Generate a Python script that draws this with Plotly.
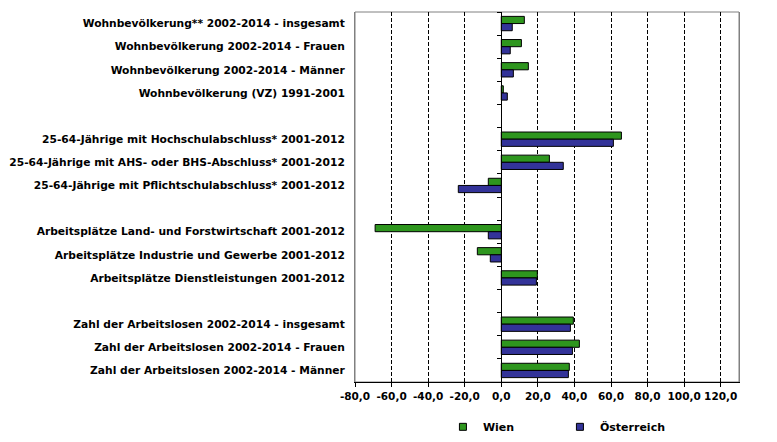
import plotly.graph_objects as go

categories = [
    "Wohnbevölkerung** 2002-2014 - insgesamt",
    "Wohnbevölkerung 2002-2014 - Frauen",
    "Wohnbevölkerung 2002-2014 - Männer",
    "Wohnbevölkerung (VZ) 1991-2001",
    " ",
    "25-64-Jährige mit Hochschulabschluss* 2001-2012",
    "25-64-Jährige mit AHS- oder BHS-Abschluss* 2001-2012",
    "25-64-Jährige mit Pflichtschulabschluss* 2001-2012",
    "  ",
    "Arbeitsplätze Land- und Forstwirtschaft 2001-2012",
    "Arbeitsplätze Industrie und Gewerbe 2001-2012",
    "Arbeitsplätze Dienstleistungen 2001-2012",
    "   ",
    "Zahl der Arbeitslosen 2002-2014 - insgesamt",
    "Zahl der Arbeitslosen 2002-2014 - Frauen",
    "Zahl der Arbeitslosen 2002-2014 - Männer",
]
wien = [12.6, 11.0, 14.8, 1.1, None, 65.7, 26.3, -7.1, None, -69.0, -13.1, 19.7, None, 39.4, 42.7, 37.2]
oesterreich = [6.0, 4.9, 6.6, 3.3, None, 61.3, 33.9, -23.5, None, -7.1, -6.0, 19.2, None, 37.8, 38.9, 36.7]
series_names = ["Wien", "Österreich"]
series_colors = ["#2E961E", "#333399"]
x_ticks = [-80, -60, -40, -20, 0, 20, 40, 60, 80, 100, 120]
x_tick_text = [f"{v:.1f}".replace(".", ",") for v in x_ticks]
x_range = [-80, 130]

FONT = "Verdana, DejaVu Sans, sans-serif"

fig = go.Figure()
for name, vals, col in zip(series_names, [wien, oesterreich], series_colors):
    fig.add_trace(go.Bar(
        y=categories, x=vals, name=name, orientation="h", showlegend=False,
        marker=dict(color=col, line=dict(color="black", width=1)),
    ))
# legend-only entries with small square swatches
for name, col in zip(series_names, series_colors):
    fig.add_trace(go.Scatter(
        x=[None], y=[None], name=name, mode="markers",
        marker=dict(symbol="square", size=7, color=col, line=dict(color="black", width=1)),
    ))
# invisible helper so the category axis line with ticks can sit at x = 0
fig.add_trace(go.Scatter(
    y=categories, x=[0] * len(categories), yaxis="y2", mode="none",
    showlegend=False, hoverinfo="skip",
))

zero_pos = (0 - x_range[0]) / (x_range[1] - x_range[0])
y_range = [len(categories) - 0.5, -0.5]

fig.update_layout(
    width=769, height=434,
    margin=dict(l=347, r=38, t=4, b=60, autoexpand=False),
    paper_bgcolor="white", plot_bgcolor="white",
    font=dict(family=FONT, size=10, color="black", weight="bold"),
    separators=",.",
    barmode="group", bargap=0.38, bargroupgap=0,
    showlegend=True,
    legend=dict(
        orientation="h", x=0.229, xanchor="left", y=-0.082, yanchor="top",
        font=dict(family=FONT, size=11, color="black", weight="bold"),
        entrywidth=72, itemwidth=30, traceorder="normal",
        bgcolor="rgba(0,0,0,0)",
    ),
    xaxis=dict(
        range=x_range, tickvals=x_ticks, ticktext=x_tick_text, tickangle=0,
        automargin=False,
        showgrid=True, gridcolor="black", griddash="4px,2px", gridwidth=1,
        zeroline=False,
        showline=True, linecolor="black", linewidth=1,
        ticks="outside", ticklen=4, tickcolor="black",
        mirror=False,
        tickfont=dict(family=FONT, size=10.5, color="black", weight="bold"),
    ),
    yaxis=dict(
        categoryorder="array", categoryarray=categories,
        range=y_range, automargin=False,
        showgrid=False, zeroline=False,
        showline=True, linecolor="#808080", linewidth=1, mirror=True,
        ticks="", ticklabelstandoff=7,
        tickfont=dict(family=FONT, size=10.7, color="black", weight="bold"),
    ),
    yaxis2=dict(
        overlaying="y", matches="y", anchor="free", position=zero_pos,
        categoryorder="array", categoryarray=categories, automargin=False,
        showticklabels=False, showgrid=False, zeroline=False,
        showline=True, linecolor="black", linewidth=1,
        ticks="outside", tickson="boundaries", ticklen=4, tickcolor="black",
    ),
)
fig.add_shape(type="rect", xref="paper", yref="paper", x0=0, x1=1, y0=0, y1=1,
              line=dict(color="#808080", width=1), layer="below")

fig.write_html("out.html")
